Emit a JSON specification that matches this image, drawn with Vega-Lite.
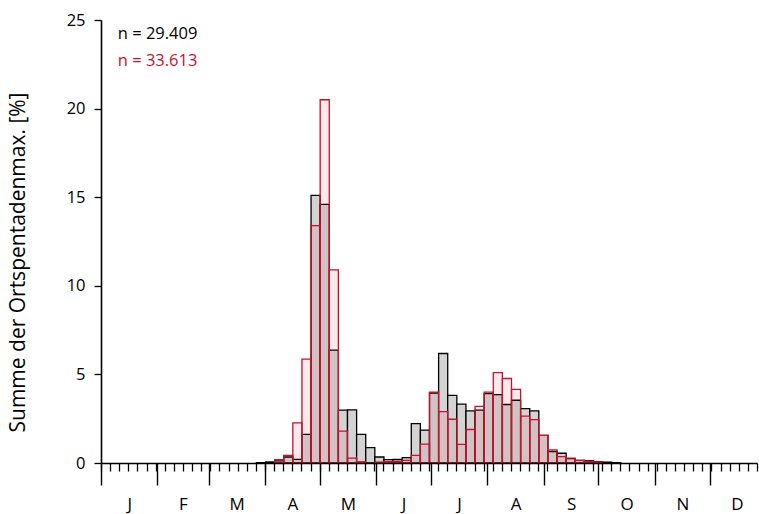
{
  "$schema": "https://vega.github.io/schema/vega-lite/v6.json",
  "autosize": "none",
  "width": 656,
  "height": 443,
  "padding": {"left": 101, "top": 20, "right": 2, "bottom": 51},
  "background": "white",
  "config": {
    "view": {"stroke": null},
    "font": "Open Sans",
    "axis": {"labelFont": "Open Sans", "titleFont": "Open Sans", "grid": false, "domainColor": "black", "tickColor": "black", "labelColor": "black", "titleColor": "black"}
  },
  "data": {
    "values": [
      {"tag": 85, "s29409": 0.02, "s33613": null},
      {"tag": 90, "s29409": 0.06, "s33613": null},
      {"tag": 95, "s29409": 0.12, "s33613": 0.19},
      {"tag": 100, "s29409": 0.34, "s33613": 0.43},
      {"tag": 105, "s29409": 0.2, "s33613": 2.26},
      {"tag": 110, "s29409": 1.62, "s33613": 5.86},
      {"tag": 115, "s29409": 15.1, "s33613": 13.4},
      {"tag": 120, "s29409": 14.6, "s33613": 20.5},
      {"tag": 125, "s29409": 6.37, "s33613": 10.9},
      {"tag": 130, "s29409": 2.98, "s33613": 1.8},
      {"tag": 135, "s29409": 3.0, "s33613": 0.28},
      {"tag": 140, "s29409": 1.62, "s33613": 0.07},
      {"tag": 145, "s29409": 0.87, "s33613": null},
      {"tag": 150, "s29409": 0.34, "s33613": 0.05},
      {"tag": 155, "s29409": 0.19, "s33613": 0.08},
      {"tag": 160, "s29409": 0.2, "s33613": 0.1},
      {"tag": 165, "s29409": 0.3, "s33613": 0.15},
      {"tag": 170, "s29409": 2.22, "s33613": 0.43},
      {"tag": 175, "s29409": 1.85, "s33613": 1.06},
      {"tag": 180, "s29409": 3.95, "s33613": 4.0},
      {"tag": 185, "s29409": 6.18, "s33613": 2.9},
      {"tag": 190, "s29409": 3.82, "s33613": 2.47},
      {"tag": 195, "s29409": 3.32, "s33613": 1.05},
      {"tag": 200, "s29409": 2.94, "s33613": 1.89},
      {"tag": 205, "s29409": 2.98, "s33613": 3.19},
      {"tag": 210, "s29409": 3.92, "s33613": 4.0},
      {"tag": 215, "s29409": 3.86, "s33613": 5.1},
      {"tag": 220, "s29409": 3.3, "s33613": 4.77},
      {"tag": 225, "s29409": 3.54, "s33613": 4.15},
      {"tag": 230, "s29409": 3.07, "s33613": 2.64},
      {"tag": 235, "s29409": 2.94, "s33613": 2.45},
      {"tag": 240, "s29409": 1.56, "s33613": 1.56},
      {"tag": 245, "s29409": 0.65, "s33613": 0.74},
      {"tag": 250, "s29409": 0.55, "s33613": 0.36},
      {"tag": 255, "s29409": 0.25, "s33613": 0.28},
      {"tag": 260, "s29409": 0.15, "s33613": 0.15},
      {"tag": 265, "s29409": 0.13, "s33613": 0.1},
      {"tag": 270, "s29409": 0.08, "s33613": 0.06},
      {"tag": 275, "s29409": 0.05, "s33613": null},
      {"tag": 280, "s29409": 0.02, "s33613": null}
    ]
  },
  "resolve": {"axis": {"x": "independent", "y": "independent"}},
  "layer": [
    {
      "mark": {"type": "bar", "binSpacing": 0, "fill": "#d3d3d3", "stroke": "black", "strokeWidth": 1.3},
      "encoding": {
        "x": {"field": "tag", "type": "quantitative", "bin": {"binned": true, "step": 5},
          "scale": {"domain": [0, 360], "nice": false, "zero": false},
          "axis": {"orient": "bottom", "values": [0,5,10,15,20,25,30,35,40,45,50,55,60,65,70,75,80,85,90,95,100,105,110,115,120,125,130,135,140,145,150,155,160,165,170,175,180,185,190,195,200,205,210,215,220,225,230,235,240,245,250,255,260,265,270,275,280,285,290,295,300,305,310,315,320,325,330,335,340,345,350,355,360],
            "labels": false, "title": null, "tickSize": 8, "tickWidth": 1.3, "domainWidth": 1.6, "zindex": 1}},
        "y": {"field": "s29409", "type": "quantitative",
          "scale": {"domain": [0, 25], "nice": false},
          "axis": {"orient": "left", "values": [0, 5, 10, 15, 20, 25], "tickSize": 7, "tickWidth": 1.3, "domainWidth": 1.6,
            "labelFontSize": 16.5, "labelPadding": 9,
            "title": "Summe der Ortspentadenmax. [%]", "titleFontSize": 21, "titleFontWeight": "normal",
            "titleX": -83, "titleY": 242, "titleAngle": -90, "titleAlign": "center", "titleBaseline": "middle"}}
      }
    },
    {
      "mark": {"type": "bar", "binSpacing": 0, "fill": "#c4122f", "fillOpacity": 0.09, "stroke": "#c4122f", "strokeWidth": 1.3},
      "encoding": {
        "x": {"field": "tag", "type": "quantitative", "bin": {"binned": true, "step": 5},
          "axis": {"orient": "bottom", "values": [0, 31, 59, 90, 120, 151, 181, 212, 243, 273, 304, 334],
            "labels": false, "title": null, "tickSize": 22, "tickWidth": 1.4, "domain": false, "zindex": 1}},
        "y": {"field": "s33613", "type": "quantitative", "axis": null}
      }
    },
    {
      "data": {"values": [{}]},
      "mark": {"type": "text", "text": "n = 29.409", "align": "left", "baseline": "alphabetic", "fontSize": 16.5, "color": "black"},
      "encoding": {
        "x": {"datum": 9.2, "type": "quantitative",
          "axis": {"orient": "bottom", "values": [15.5, 45, 74.5, 105, 135.5, 166, 196.5, 227.5, 258, 288.5, 319, 349],
            "labelExpr": "['J','F','M','A','M','J','J','A','S','O','N','D'][month(datetime(2001, 0, floor(datum.value) + 1))]",
            "ticks": false, "tickSize": 0, "domain": false, "title": null,
            "labelFontSize": 17, "labelPadding": 46, "labelBaseline": "alphabetic"}},
        "y": {"datum": 23.92, "type": "quantitative", "axis": null}
      }
    },
    {
      "data": {"values": [{}]},
      "mark": {"type": "text", "text": "n = 33.613", "align": "left", "baseline": "alphabetic", "fontSize": 16.5, "color": "#c4122f"},
      "encoding": {
        "x": {"datum": 9.2, "type": "quantitative", "axis": null},
        "y": {"datum": 22.41, "type": "quantitative", "axis": null}
      }
    }
  ]
}
